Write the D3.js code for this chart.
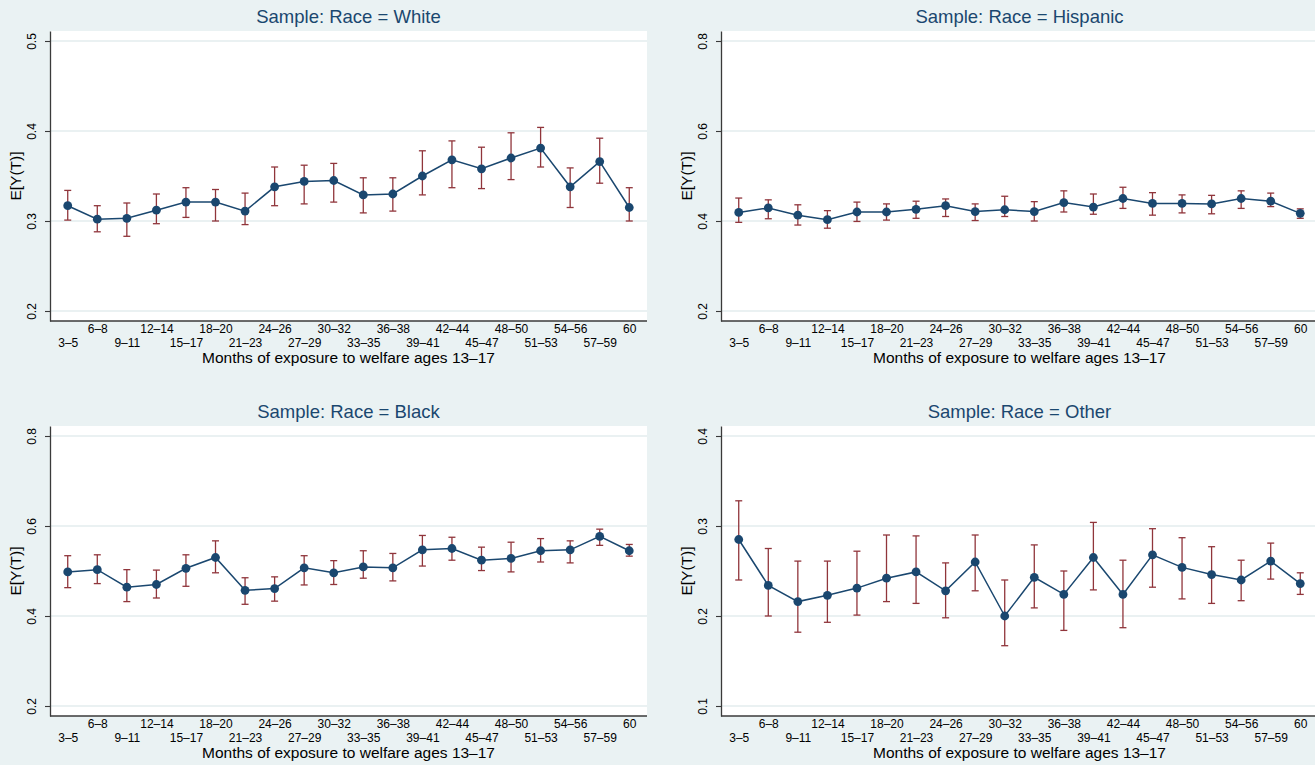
<!DOCTYPE html>
<html>
<head>
<meta charset="utf-8">
<script src="https://cdn.jsdelivr.net/npm/d3@7/dist/d3.min.js"></script>
<style>
  html, body { margin: 0; padding: 0; background: #eaf2f3; }
  svg { display: block; font-family: "Liberation Sans", Arial, sans-serif; }
</style>
</head>
<body>
<svg id="chart" width="1315" height="765"></svg>
<script>
// ---------------- data ----------------
const categories = ["3–5","6–8","9–11","12–14","15–17","18–20","21–23","24–26","27–29","30–32",
                    "33–35","36–38","39–41","42–44","45–47","48–50","51–53","54–56","57–59","60"];

const whiteMean = [0.317,0.302,0.303,0.312,0.321,0.321,0.311,0.338,0.344,0.345,
                   0.329,0.330,0.350,0.368,0.358,0.370,0.381,0.338,0.366,0.315];
const whiteLo   = [0.301,0.288,0.283,0.297,0.304,0.300,0.296,0.317,0.319,0.321,
                   0.309,0.311,0.329,0.337,0.336,0.346,0.360,0.315,0.342,0.300];
const whiteHi   = [0.334,0.317,0.320,0.330,0.337,0.335,0.331,0.360,0.362,0.364,
                   0.348,0.348,0.378,0.389,0.382,0.398,0.404,0.359,0.392,0.337];

const hispMean  = [0.419,0.429,0.413,0.403,0.420,0.420,0.426,0.434,0.421,0.425,
                   0.421,0.441,0.431,0.450,0.439,0.439,0.438,0.450,0.444,0.417];
const hispLo    = [0.397,0.405,0.391,0.384,0.399,0.402,0.406,0.410,0.401,0.410,
                   0.400,0.420,0.415,0.428,0.413,0.418,0.416,0.428,0.432,0.406];
const hispHi    = [0.451,0.447,0.436,0.423,0.442,0.438,0.444,0.449,0.438,0.455,
                   0.443,0.467,0.460,0.475,0.463,0.458,0.457,0.467,0.462,0.427];

const blackMean = [0.498,0.503,0.464,0.470,0.506,0.530,0.457,0.461,0.507,0.496,
                   0.509,0.507,0.547,0.550,0.524,0.528,0.545,0.547,0.577,0.545];
const blackLo   = [0.463,0.472,0.432,0.440,0.466,0.496,0.426,0.433,0.469,0.470,
                   0.484,0.478,0.511,0.524,0.501,0.498,0.520,0.518,0.557,0.533];
const blackHi   = [0.534,0.536,0.503,0.502,0.536,0.567,0.485,0.487,0.534,0.523,
                   0.545,0.539,0.579,0.575,0.553,0.564,0.572,0.567,0.593,0.559];

const otherMean = [0.285,0.234,0.216,0.223,0.231,0.242,0.249,0.228,0.260,0.200,
                   0.243,0.224,0.265,0.224,0.268,0.254,0.246,0.240,0.261,0.236];
const otherLo   = [0.240,0.200,0.182,0.193,0.201,0.216,0.214,0.198,0.228,0.167,
                   0.209,0.184,0.229,0.187,0.232,0.219,0.214,0.217,0.241,0.224];
const otherHi   = [0.328,0.275,0.261,0.261,0.272,0.290,0.289,0.259,0.290,0.240,
                   0.279,0.250,0.304,0.262,0.297,0.287,0.277,0.262,0.281,0.248];

const whiteTicks = [0.2,0.3,0.4,0.5];
const hispTicks  = [0.2,0.4,0.6,0.8];
const blackTicks = [0.2,0.4,0.6,0.8];
const otherTicks = [0.1,0.2,0.3,0.4];

const titles = ["Sample: Race = White","Sample: Race = Hispanic","Sample: Race = Black","Sample: Race = Other"];
const xTitle = "Months of exposure to welfare ages 13–17";
const yTitle = "E[Y(T)]";

// ---------------- styling ----------------
const NAVY = "#1a476f", MAROON = "#90353b", BG = "#eaf2f3", GRID = "#e3ecee", AXIS = "#3a3a3a";

const panels = [
  {title: titles[0], mean: whiteMean, lo: whiteLo, hi: whiteHi, ticks: whiteTicks, x0: 50,  x1: 647,  y0: 31,  y1: 321},
  {title: titles[1], mean: hispMean,  lo: hispLo,  hi: hispHi,  ticks: hispTicks,  x0: 721, x1: 1318, y0: 31,  y1: 321},
  {title: titles[2], mean: blackMean, lo: blackLo, hi: blackHi, ticks: blackTicks, x0: 50,  x1: 647,  y0: 426, y1: 716},
  {title: titles[3], mean: otherMean, lo: otherLo, hi: otherHi, ticks: otherTicks, x0: 721, x1: 1318, y0: 426, y1: 716}
];

const svg = d3.select("#chart");
svg.append("rect").attr("width", 1315).attr("height", 765).attr("fill", BG);

panels.forEach(p => {
  const g = svg.append("g");
  const tmin = d3.min(p.ticks), tmax = d3.max(p.ticks);
  const pad = (tmax - tmin) * 10 / 270;
  const y = d3.scaleLinear().domain([tmin - pad, tmax + pad]).range([p.y1, p.y0]);
  const x = d3.scaleLinear().domain([0.4, 20.6]).range([p.x0, p.x1]);
  const idx = d3.range(1, categories.length + 1);

  // plot region
  g.append("rect").attr("x", p.x0).attr("y", p.y0)
    .attr("width", p.x1 - p.x0).attr("height", p.y1 - p.y0).attr("fill", "#ffffff");

  // gridlines
  g.selectAll("line.grid").data(p.ticks).join("line").attr("class", "grid")
    .attr("x1", p.x0).attr("x2", p.x1)
    .attr("y1", d => y(d)).attr("y2", d => y(d))
    .attr("stroke", GRID).attr("stroke-width", 1.6);

  // y axis
  const ya = g.append("g").attr("transform", `translate(${p.x0},0)`)
    .call(d3.axisLeft(y).tickValues(p.ticks).tickSize(5).tickSizeOuter(0).tickFormat(d3.format(".1f")));
  ya.select(".domain").attr("stroke", AXIS).attr("stroke-width", 1.3);
  ya.selectAll(".tick line").attr("stroke", AXIS).attr("stroke-width", 1.1);
  ya.selectAll(".tick text")
    .attr("transform", "rotate(-90)")
    .attr("x", 0).attr("y", -14).attr("dy", 0)
    .attr("text-anchor", "middle")
    .attr("font-size", 12).attr("fill", "#000")
    .attr("font-family", "Liberation Sans, Arial, sans-serif");

  // x axis
  const xa = g.append("g").attr("transform", `translate(0,${p.y1})`)
    .call(d3.axisBottom(x).tickValues(idx).tickSize(0).tickSizeOuter(0).tickFormat(i => categories[i - 1]));
  xa.select(".domain").attr("stroke", AXIS).attr("stroke-width", 1.3)
    .attr("d", `M${p.x0},0H${p.x1}`);
  xa.selectAll(".tick text")
    .attr("y", (d) => ((d - 1) % 2 === 1 ? 12.3 : 25.6)).attr("dy", 0)
    .attr("font-size", 12).attr("fill", "#000")
    .attr("font-family", "Liberation Sans, Arial, sans-serif");

  // titles
  g.append("text").attr("x", (p.x0 + p.x1) / 2).attr("y", p.y0 - 7.7)
    .attr("text-anchor", "middle").attr("font-size", 18.5).attr("fill", NAVY).text(p.title);
  g.append("text").attr("x", (p.x0 + p.x1) / 2).attr("y", p.y1 + 41.5)
    .attr("text-anchor", "middle").attr("font-size", 15.5).attr("fill", "#000").text(xTitle);
  g.append("text").attr("transform", `translate(${p.x0 - 29},${(p.y0 + p.y1) / 2}) rotate(-90)`)
    .attr("text-anchor", "middle").attr("font-size", 15.5).attr("fill", "#000").text(yTitle);

  // error bars
  const eb = g.append("g").attr("stroke", MAROON).attr("stroke-width", 1.3).attr("fill", "none");
  idx.forEach((i, k) => {
    const cx = x(i);
    eb.append("line").attr("x1", cx).attr("x2", cx).attr("y1", y(p.lo[k])).attr("y2", y(p.hi[k]));
    eb.append("line").attr("x1", cx - 3.5).attr("x2", cx + 3.5).attr("y1", y(p.lo[k])).attr("y2", y(p.lo[k]));
    eb.append("line").attr("x1", cx - 3.5).attr("x2", cx + 3.5).attr("y1", y(p.hi[k])).attr("y2", y(p.hi[k]));
  });

  // line
  const line = d3.line().x((d, k) => x(k + 1)).y(d => y(d));
  g.append("path").datum(p.mean).attr("d", line)
    .attr("fill", "none").attr("stroke", NAVY).attr("stroke-width", 1.5);

  // markers
  g.selectAll("circle.pt").data(p.mean).join("circle").attr("class", "pt")
    .attr("cx", (d, k) => x(k + 1)).attr("cy", d => y(d)).attr("r", 4.4)
    .attr("fill", NAVY);
});
</script>
</body>
</html>
